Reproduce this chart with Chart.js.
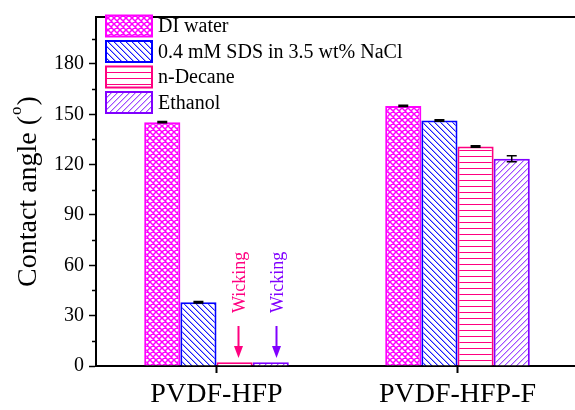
<!DOCTYPE html>
<html>
<head>
<meta charset="utf-8">
<script src="https://cdn.jsdelivr.net/npm/chart.js@4.4.0/dist/chart.umd.min.js"></script>
<style>
  html, body { margin: 0; padding: 0; background: #fff; overflow: hidden; }
  #wrap { width: 578px; height: 410px; }
</style>
</head>
<body>
<div id="wrap"><canvas id="angle-chart"></canvas></div>
<script>
// Contact angle data
const samples = ["PVDF-HFP", "PVDF-HFP-F"];
const liquids = ["DI water", "0.4 mM SDS in 3.5 wt% NaCl", "n-Decane", "Ethanol"];
const diWater = [145.3, 155];
const sdsBrine = [38, 146.3];
const decane = [2.2, 130.8];
const ethanol = [2.2, 123.5];
const diWaterErr = [0.4, 0.4];
const sdsBrineErr = [0.4, 0.4];
const decaneErr = [0, 0.4];
const ethanolErr = [0, 1.8];
const yTicks = [0, 30, 60, 90, 120, 150, 180];
const yMinorTicks = [15, 45, 75, 105, 135, 165, 195];
const wickingText = "Wicking";

const colors = ['#ff00ff', '#0000ff', '#ff0080', '#8000ff'];
const hatchColors = ['#ff00ff', '#1a1aff', '#ff0080', '#a04dff'];
const fills = ['cross', 'back', 'horiz', 'fwd'];
const serif = '"Liberation Serif", "Times New Roman", serif';

// hatch fills, drawn pixel by pixel on a 6x6 tile
function makePattern(color, kind) {
    const s = 6;
    const c = document.createElement('canvas');
    c.width = s; c.height = s;
    const g = c.getContext('2d');
    g.fillStyle = '#fff';
    g.fillRect(0, 0, s, s);
    if (kind === 'cross') {
        g.strokeStyle = color;
        g.lineWidth = 1.5;
        g.beginPath();
        for (let k = -s; k <= s; k += s) {
            g.moveTo(k, 0); g.lineTo(k + s, s);
            g.moveTo(k, s); g.lineTo(k + s, 0);
        }
        g.stroke();
    } else {
        for (let i = 0; i < s; i++) {
            let px, py;
            if (kind === 'back') { px = i; py = i; }
            if (kind === 'fwd') { px = i; py = s - 1 - i; }
            if (kind === 'horiz') { px = i; py = 0; }
            g.fillStyle = color;
            g.fillRect(px, py, 1, 1);
            if (kind !== 'horiz') {
                g.globalAlpha = 0.4;
                g.fillRect((px + 1) % s, py, 1, 1);
                g.globalAlpha = 1;
            }
        }
    }
    return g.createPattern(c, 'repeat');
}

const patterns = hatchColors.map((col, i) => makePattern(col, fills[i]));
const values = [diWater, sdsBrine, decane, ethanol];
const errors = [diWaterErr, sdsBrineErr, decaneErr, ethanolErr];

let angleData = {
    labels: samples,
    datasets: liquids.map((name, i) => ({
        label: name,
        data: values[i],
        errors: errors[i],
        backgroundColor: patterns[i],
        borderColor: colors[i],
        borderWidth: 2,
        categoryPercentage: 0.6,
        barPercentage: 1
    }))
};

// error bars, minor ticks, frame, legend, notes
const extras = {
    id: 'extras',
    afterDatasetsDraw(chart) {
        const ctx = chart.ctx;
        const y = chart.scales.y;
        ctx.save();
        ctx.strokeStyle = '#000';
        ctx.lineWidth = 1.5;
        chart.data.datasets.forEach((ds, i) => {
            chart.getDatasetMeta(i).data.forEach((bar, j) => {
                const e = ds.errors[j];
                if (!e) return;
                const top = y.getPixelForValue(ds.data[j] + e);
                const bot = y.getPixelForValue(ds.data[j] - e);
                ctx.beginPath();
                ctx.moveTo(bar.x, top); ctx.lineTo(bar.x, bot);
                ctx.moveTo(bar.x - 5, top); ctx.lineTo(bar.x + 5, top);
                ctx.moveTo(bar.x - 5, bot); ctx.lineTo(bar.x + 5, bot);
                ctx.stroke();
            });
        });
        ctx.restore();
    },
    afterDraw(chart) {
        const ctx = chart.ctx;
        const area = chart.chartArea;
        const y = chart.scales.y;
        ctx.save();

        // top frame line
        ctx.strokeStyle = '#000';
        ctx.lineWidth = 2;
        ctx.beginPath();
        ctx.moveTo(area.left - 1, area.top);
        ctx.lineTo(area.right, area.top);
        ctx.stroke();

        // minor ticks on y
        ctx.lineWidth = 1.5;
        ctx.beginPath();
        yMinorTicks.forEach(v => {
            const py = Math.round(y.getPixelForValue(v)) + 0.5;
            ctx.moveTo(area.left, py);
            ctx.lineTo(area.left - 4, py);
        });
        ctx.stroke();

        // y title with superscript degree mark
        ctx.translate(29, (area.top + area.bottom) / 2);
        ctx.rotate(-Math.PI / 2);
        ctx.fillStyle = '#000';
        ctx.textBaseline = 'middle';
        const big = '28px ' + serif;
        const small = '17px ' + serif;
        ctx.font = big;
        const p1 = 'Contact angle (';
        const w1 = ctx.measureText(p1).width;
        const w3 = ctx.measureText(')').width;
        ctx.font = small;
        const w2 = ctx.measureText('o').width + 2;
        let x0 = -(w1 + w2 + w3) / 2;
        ctx.font = big;
        ctx.fillText(p1, x0, 0);
        ctx.font = small;
        ctx.fillText('o', x0 + w1 + 1, -12);
        ctx.font = big;
        ctx.fillText(')', x0 + w1 + w2, 0);
        ctx.setTransform(1, 0, 0, 1, 0, 0);

        // legend
        ctx.font = '20px ' + serif;
        ctx.textBaseline = 'middle';
        chart.data.datasets.forEach((ds, i) => {
            const cy = 26 + i * 25.5;
            ctx.fillStyle = ds.backgroundColor;
            ctx.fillRect(106, cy - 10.5, 46, 21);
            ctx.strokeStyle = ds.borderColor;
            ctx.lineWidth = 2;
            ctx.strokeRect(106, cy - 10.5, 46, 21);
            ctx.fillStyle = '#000';
            ctx.fillText(ds.label, 158, cy + 1);
        });

        // wicking notes over the near-zero bars
        [2, 3].forEach((i, n) => {
            const bar = chart.getDatasetMeta(i).data[0];
            const col = colors[i];
            const ax = Math.round(bar.x + 3 + n * 2) + 0.5;
            const tip = y.getPixelForValue(0) - 8;
            ctx.strokeStyle = col;
            ctx.fillStyle = col;
            ctx.lineWidth = 2;
            ctx.beginPath();
            ctx.moveTo(ax, tip - 32);
            ctx.lineTo(ax, tip - 8);
            ctx.stroke();
            ctx.beginPath();
            ctx.moveTo(ax - 4.5, tip - 12);
            ctx.lineTo(ax + 4.5, tip - 12);
            ctx.lineTo(ax, tip);
            ctx.closePath();
            ctx.fill();

            ctx.save();
            ctx.translate(ax + 6.5, tip - 45);
            ctx.rotate(-Math.PI / 2);
            ctx.font = '18px ' + serif;
            ctx.textBaseline = 'alphabetic';
            ctx.textAlign = 'left';
            ctx.fillText(wickingText, 0, 0);
            ctx.restore();
        });
        ctx.restore();
    }
};

let angleOptions = {
    responsive: true,
    maintainAspectRatio: false,
    animation: { duration: 0 },
    layout: { padding: { top: 14, right: 0, left: 0, bottom: 0 } },
    scales: {
        x: {
            grid: {
                offset: false,
                drawOnChartArea: false,
                tickLength: 7,
                tickWidth: 2,
                tickColor: '#000'
            },
            border: { color: '#000', width: 2 },
            ticks: {
                color: '#000',
                padding: 5,
                font: { family: serif, size: 28 }
            },
            afterFit(scale) { scale.height = 44; }
        },
        y: {
            min: 0,
            max: 208,
            grid: {
                drawOnChartArea: false,
                tickLength: 7,
                tickWidth: 1.5,
                tickColor: '#000'
            },
            border: { color: '#000', width: 2 },
            ticks: {
                color: '#000',
                padding: 5,
                font: { family: serif, size: 20 }
            },
            afterBuildTicks(scale) {
                scale.ticks = yTicks.map(v => ({ value: v }));
            },
            afterFit(scale) { scale.width = 96; }
        }
    },
    plugins: {
        legend: { display: false },
        tooltip: { enabled: false }
    }
};

let angleChart = new Chart(document.getElementById('angle-chart'), {
    type: 'bar',
    data: angleData,
    options: angleOptions,
    plugins: [extras]
});
</script>
</body>
</html>
